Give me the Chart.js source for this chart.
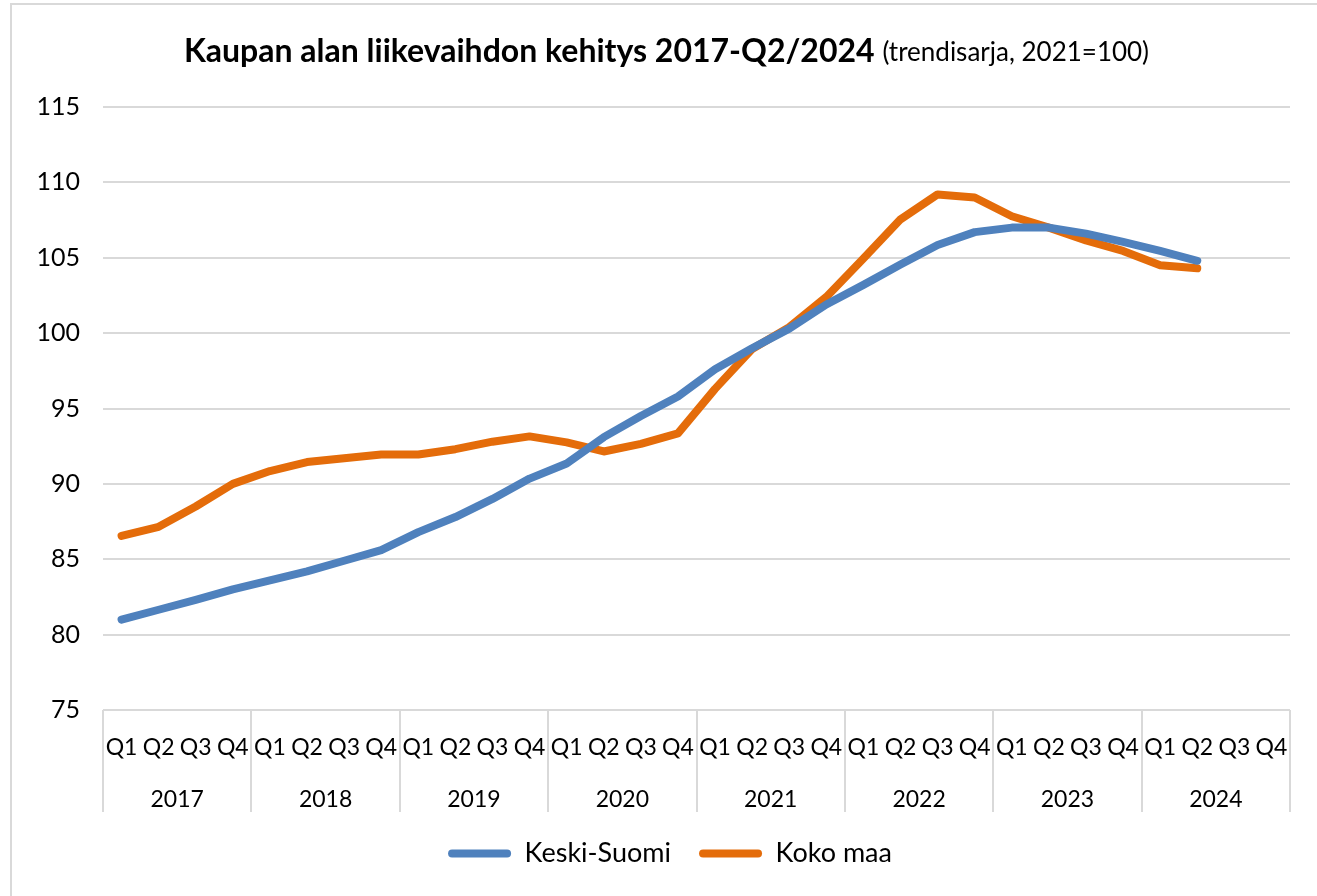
<!DOCTYPE html>
<html>
<head>
<meta charset="utf-8">
<title>Kaupan alan liikevaihdon kehitys</title>
<script src="https://cdn.jsdelivr.net/npm/chart.js@4"></script>
<style>
  body { margin: 0; background: #fff; }
  canvas { display: block; }
</style>
</head>
<body>
<canvas id="kauppaChart" width="1317" height="896"></canvas>
<script>
// data
const years = ['2017', '2018', '2019', '2020', '2021', '2022', '2023', '2024'];
const quarterNames = ['Q1', 'Q2', 'Q3', 'Q4'];
const quarterLabels = years.flatMap(() => quarterNames);

const keskiSuomi = [81.0, 81.65, 82.3, 83.0, 83.6, 84.2, 84.9, 85.6,
    86.8, 87.8, 89.0, 90.35, 91.35, 93.1, 94.5, 95.8,
    97.6, 99.0, 100.3, 101.9, 103.2, 104.55, 105.85, 106.7,
    107.0, 107.0, 106.6, 106.05, 105.45, 104.8];
const kokoMaa = [86.55, 87.15, 88.5, 90.0, 90.85, 91.45, 91.7, 91.95,
    91.95, 92.3, 92.8, 93.15, 92.75, 92.15, 92.65, 93.35,
    96.3, 98.95, 100.4, 102.4, 104.95, 107.55, 109.2, 109.0,
    107.75, 107.0, 106.15, 105.45, 104.5, 104.3];

const titleBold = 'Kaupan alan liikevaihdon kehitys 2017-Q2/2024';
const titleNormal = '(trendisarja, 2021=100)';

const blue = '#4F81BD';
const orange = '#E46C0A';
const gridColor = '#d9d9d9';
const fontFamily = 'Lato, Carlito, "Open Sans", sans-serif';

Chart.defaults.font.family = fontFamily;
Chart.defaults.color = '#000';

// Titteli: lihavoitu osa + normaali osa samalla rivillä
const titlePlugin = {
    id: 'mixedTitle',
    afterLayout(chart) {
        // selite hieman oikealle kuten alkuperäisessä
        const lg = chart.legend;
        if (lg) { lg.left += 25; lg.right += 25; }
    },
    beforeDraw(chart) {
        const c = chart.ctx;
        c.save();
        c.fillStyle = '#fff';
        c.fillRect(0, 0, chart.width, chart.height);
        // kehys
        c.strokeStyle = gridColor;
        c.lineWidth = 2;
        c.strokeRect(11, 4, chart.width + 20, chart.height + 20);

        c.textBaseline = 'middle';
        c.font = 'bold 32px ' + fontFamily;
        const w1 = c.measureText(titleBold + ' ').width;
        c.font = '26px ' + fontFamily;
        const w2 = c.measureText(titleNormal).width;
        let x = chart.width / 2 + 8 - (w1 + w2) / 2;
        c.fillStyle = '#000';
        c.font = 'bold 32px ' + fontFamily;
        c.fillText(titleBold + ' ', x, 52);
        c.font = '26px ' + fontFamily;
        c.fillText(titleNormal, x + w1, 53);
        c.restore();
    }
};

new Chart(document.getElementById('kauppaChart'), {
    type: 'line',
    data: {
        labels: quarterLabels,
        datasets: [{
            label: 'Keski-Suomi',
            data: keskiSuomi,
            borderColor: blue,
            backgroundColor: blue,
            borderWidth: 8,
            pointRadius: 0,
            tension: 0,
            borderCapStyle: 'round',
            borderJoinStyle: 'round'
        }, {
            label: 'Koko maa',
            data: kokoMaa,
            borderColor: orange,
            backgroundColor: orange,
            borderWidth: 8,
            pointRadius: 0,
            tension: 0,
            borderCapStyle: 'round',
            borderJoinStyle: 'round'
        }]
    },
    options: {
        responsive: false,
        animation: false,
        layout: {
            padding: { top: 107, right: 27, bottom: 19, left: 0 }
        },
        scales: {
            y: {
                min: 75,
                max: 115,
                ticks: { stepSize: 5, font: { size: 25 }, padding: 23 },
                grid: { color: gridColor, lineWidth: 2, drawTicks: false },
                border: { display: false },
                afterFit: (scale) => { scale.width = 103; }
            },
            x: {
                type: 'category',
                offset: true,
                ticks: { font: { size: 23 }, autoSkip: false, maxRotation: 0, padding: -33 },
                grid: {
                    offset: true,
                    drawOnChartArea: false,
                    tickLength: 57,
                    lineWidth: 2,
                    color: (c) => (c.index === undefined || c.index % 4 === 0) ? gridColor : 'rgba(0,0,0,0)'
                },
                border: { display: false },
                afterFit: (scale) => { scale.height = 57; }
            },
            x2: {
                type: 'category',
                labels: years,
                position: 'bottom',
                offset: true,
                ticks: { font: { size: 23 }, autoSkip: false, maxRotation: 0, padding: -26 },
                grid: {
                    offset: true,
                    drawOnChartArea: false,
                    tickLength: 45,
                    lineWidth: 2,
                    color: gridColor
                },
                border: { display: false },
                afterFit: (scale) => { scale.height = 45; }
            }
        },
        plugins: {
            title: { display: false },
            tooltip: { enabled: false },
            legend: {
                position: 'bottom',
                labels: {
                    font: { size: 27 },
                    boxWidth: 63,
                    boxHeight: 8,
                    padding: 28,
                    generateLabels: (chart) => Chart.defaults.plugins.legend.labels.generateLabels(chart)
                        .map(item => ({ ...item, lineWidth: 0, borderRadius: 4 }))
                }
            }
        }
    },
    plugins: [titlePlugin]
});
</script>
</body>
</html>
